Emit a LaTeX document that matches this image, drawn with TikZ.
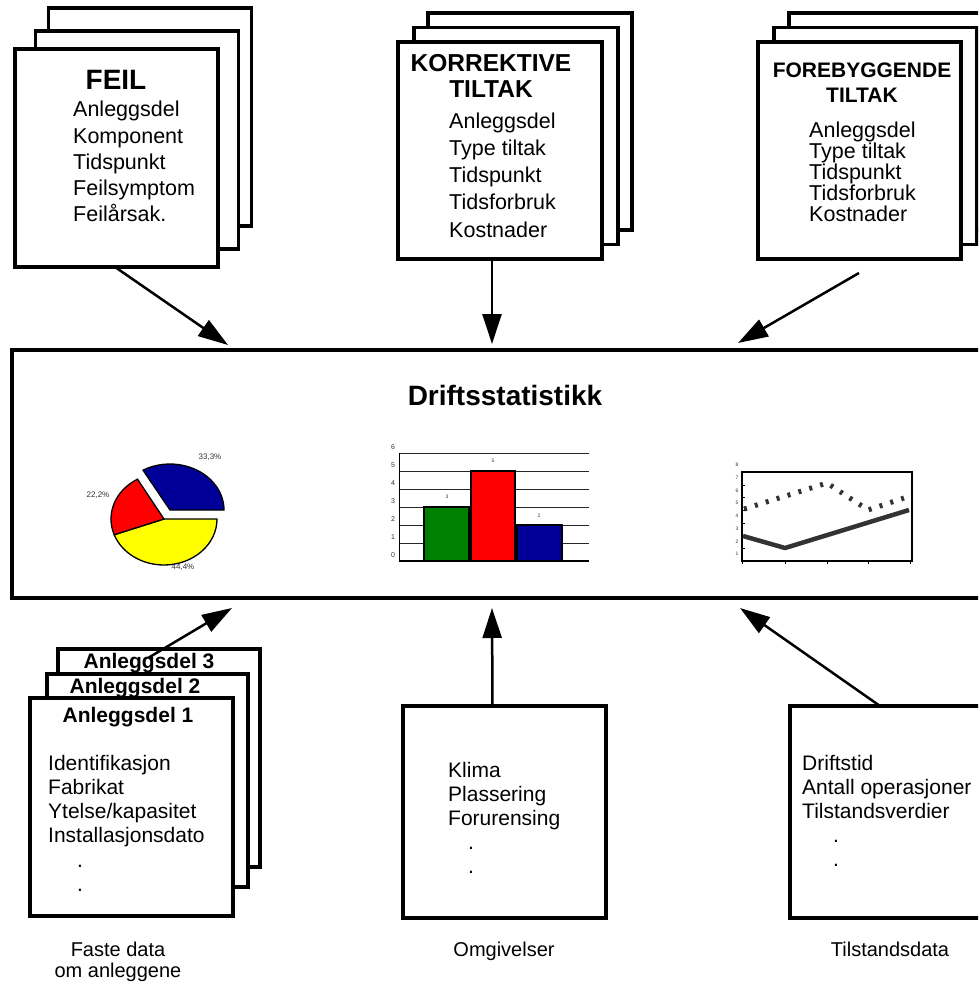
\documentclass[tikz,border=0pt]{standalone}
\usepackage{fontspec}
\setmainfont{Liberation Sans}
\usetikzlibrary{arrows.meta, calc}
\definecolor{bargreen}{RGB}{0,128,0}
\definecolor{barred}{RGB}{255,0,0}
\definecolor{barblue}{RGB}{0,0,153}
\definecolor{pieyellow}{RGB}{255,255,0}
\newcommand{\fsz}[2]{\fontsize{#1}{#2}\selectfont}
\tikzset{
  sheet/.style={
    rectangle, draw=black, line width=3.5pt,
    fill=white, inner sep=0pt, outer sep=0pt,
    minimum width=203pt, minimum height=218pt
  },
  head/.style={font=\bfseries\fsz{24.5}{26}, align=center, anchor=base, inner sep=0pt},
  items/.style={font=\fsz{21.5}{26.3}, align=left, anchor=base west, inner sep=0pt},
  capt/.style={font=\fsz{20}{21}, align=center, anchor=base, inner sep=0pt},
  arr/.style={-{Triangle[length=30pt,width=19pt]}, line width=2.5pt},
  ticklbl/.style={font=\fsz{7}{8}, inner sep=0pt, text=black!80},
  slice/.style={draw=black, line width=1.3pt}
}

\begin{document}
\begin{tikzpicture}[x=1pt, y=-1pt]
  \useasboundingbox (0,0) rectangle (978,984);
  \clip (0,0) rectangle (978,984);

  % ---- Input sheets (top) ----
  % (multi-line nodes sit on the baseline of their last line)
  \node[sheet] (feilBack) at (150,117)   {};
  \node[sheet] (feilMid)  at (137,140)   {};
  \node[sheet] (feil)     at (116.5,158) {};
  \node[head, font=\bfseries\fsz{28}{30}] (feilHd) at (116,90) {FEIL};
  \node[items] (feilTxt) at (73,222)
    {Anleggsdel\\Komponent\\Tidspunkt\\Feilsymptom\\Feilårsak.};

  \node[sheet, minimum width=204pt, minimum height=217pt] (korrBack) at (530,121.5) {};
  \node[sheet, minimum width=204pt, minimum height=217pt] (korrMid)  at (516,136)   {};
  \node[sheet, minimum width=204pt, minimum height=217pt] (korr)     at (500,150.5) {};
  \node[head] (korrHd) at (491,98) {KORREKTIVE\\TILTAK};
  \node[items, font=\fsz{21.5}{27.2}] (korrTxt) at (449,237)
    {Anleggsdel\\Type tiltak\\Tidspunkt\\Tidsforbruk\\Kostnader};

  \node[sheet, minimum height=217pt] (foreBack) at (890.5,121.5) {};
  \node[sheet, minimum height=217pt] (foreMid)  at (875.5,136)   {};
  \node[sheet, minimum height=217pt] (fore)     at (859.5,150.5) {};
  \node[head, font=\bfseries\fsz{21}{25}] (foreHd) at (862,103) {FOREBYGGENDE\\TILTAK};
  \node[items, font=\fsz{21.5}{21}] (foreTxt) at (809,222)
    {Anleggsdel\\Type tiltak\\Tidspunkt\\Tidsforbruk\\Kostnader};

  % ---- Central statistics box ----
  \node[sheet, minimum width=988pt, minimum height=248pt] (stat) at (506,474) {};
  \node[head, font=\bfseries\fsz{28}{30}] (statHd) at (505,405) {Driftsstatistikk};

  % pie chart
  \filldraw[slice, fill=pieyellow] (164,519) -- ($(164,519)+(0:53 and 46)$)
    arc[start angle=0, end angle=160, x radius=53, y radius=46] -- cycle;
  \filldraw[slice, fill=barred] (164,519) -- ($(164,519)+(160:53 and 46)$)
    arc[start angle=160, end angle=240, x radius=53, y radius=46] -- cycle;
  \filldraw[slice, fill=barblue] (170,510) -- ($(170,510)+(240:54 and 46)$)
    arc[start angle=240, end angle=360, x radius=54, y radius=46] -- cycle;
  \node[ticklbl, font=\fsz{8}{9}] (pieA) at (210,457) {33,3\%};
  \node[ticklbl, font=\fsz{8}{9}] (pieB) at (98,495)  {22,2\%};
  \node[ticklbl, font=\fsz{8}{9}] (pieC) at (183,567) {44,4\%};

  % bar chart
  \foreach \v in {1,...,6}
    \draw[line width=0.8pt, black!85] (399,{561-18*\v}) -- (589,{561-18*\v});
  \draw[line width=0.8pt] (399,453) -- (399,561);
  \draw[line width=1.2pt] (399,561) -- (589,561);
  \filldraw[slice, fill=bargreen] (424,561) rectangle (469,507);
  \filldraw[slice, fill=barred]   (471,561) rectangle (515,471);
  \filldraw[slice, fill=barblue]  (517,561) rectangle (562,525);
  \foreach \v in {0,...,6}
    \node[ticklbl] at (393,{555-18*\v}) {\v};
  \node[ticklbl, font=\fsz{5}{6}] at (447,497) {3};
  \node[ticklbl, font=\fsz{5}{6}] at (493,461) {5};
  \node[ticklbl, font=\fsz{5}{6}] at (539,516) {2};

  % line chart
  \draw[line width=1.2pt] (742,472) rectangle (912,561);
  \foreach \v in {1,...,7}
    \draw[line width=0.6pt] (742,{561-12.7*\v}) -- ++(3,0);
  \foreach \xx in {742,785,827,868,910}
    \draw[line width=0.6pt] (\xx,561) -- ++(0,3);
  \foreach \v in {1,...,8}
    \node[ticklbl, font=\fsz{5}{6}] at (737,{566.7-12.7*\v}) {\v};
  \draw[line width=5pt, black!80, dash pattern=on 3pt off 8.4pt]
    (744,509) -- (827,483) -- (868,510) -- (910,496);
  \draw[line width=4.5pt, black!80, line join=round]
    (743,536) -- (785,548) -- (909,510);

  % ---- Input sheets (bottom) ----
  \node[sheet, minimum width=202pt] (anlBack) at (159,758) {};
  \node[sheet, minimum width=201pt, minimum height=213pt] (anlMid) at (147.5,780.5) {};
  \node[sheet] (anl) at (131.5,807) {};
  \node[head, font=\bfseries\fsz{21}{22}] (anl3) at (149,668) {Anleggsdel 3};
  \node[head, font=\bfseries\fsz{21}{22}] (anl2) at (135,693) {Anleggsdel 2};
  \node[head, font=\bfseries\fsz{21}{22}] (anl1) at (128,722) {Anleggsdel 1};
  \node[items, font=\fsz{21}{24.3}] (anlTxt) at (48,891.5)
    {Identifikasjon\\Fabrikat\\Ytelse/kapasitet\\Installasjonsdato\\\hspace{29pt}.\\\hspace{29pt}.};

  \node[sheet, minimum height=212pt] (omg) at (504.5,812) {};
  \node[items, font=\fsz{21}{24}] (omgTxt) at (448,873)
    {Klima\\Plassering\\Forurensing\\\hspace{20pt}.\\\hspace{20pt}.};

  \node[sheet, minimum height=212pt] (tilst) at (891.5,812) {};
  \node[items, font=\fsz{21}{24}] (tilstTxt) at (802,866)
    {Driftstid\\Antall operasjoner\\Tilstandsverdier\\\hspace{31pt}.\\\hspace{31pt}.};

  % ---- Captions ----
  \node[capt] (anlCap)   at (118,977) {Faste data\\om anleggene};
  \node[capt] (omgCap)   at (504,956) {Omgivelser};
  \node[capt] (tilstCap) at (890,956) {Tilstandsdata};

  % ---- Arrows ----
  \draw[arr] ($(feil.south west)+(100,0)$) -- ($(stat.north west)+(216,-5)$);
  \draw[arr] ($(korr.south west)+(94,0)$)  -- ($(stat.north west)+(480,-6)$);
  \draw[arr] ($(fore.south west)+(101,14)$) -- ($(stat.north west)+(726,-7)$);
  \draw[arr] ($(anlBack.north west)+(90,9)$) -- ($(stat.south west)+(220,10)$);
  \draw[arr] ($(omg.north)+(-12,0)$)        -- ($(stat.south west)+(480,10)$);
  \draw[arr] ($(tilst.north west)+(90,0)$)  -- ($(stat.south west)+(728,10)$);

\end{tikzpicture}
\end{document}
